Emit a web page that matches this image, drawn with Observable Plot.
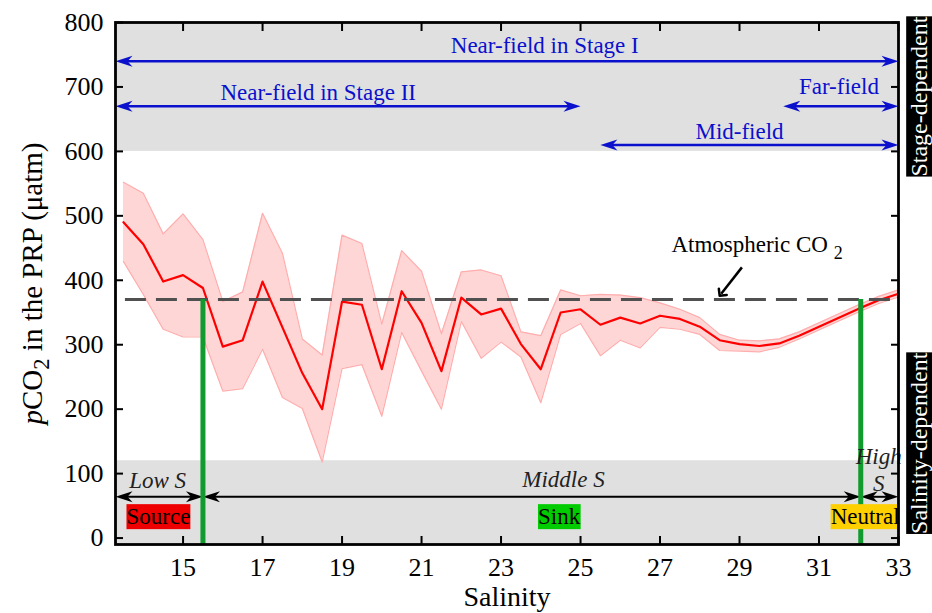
<!DOCTYPE html>
<html>
<head>
<meta charset="utf-8">
<script src="https://cdn.jsdelivr.net/npm/d3@7"></script>
<script src="https://cdn.jsdelivr.net/npm/@observablehq/plot@0.6"></script>
<style>
  body { margin: 0; background: #fff; }
</style>
</head>
<body>
<script>
// pCO2 in the plume region vs. salinity: mean and spread
const salinity  = [13.5, 14, 14.5, 15, 15.5, 16, 16.5, 17, 17.5, 18, 18.5, 19, 19.5, 20, 20.5, 21, 21.5, 22, 22.5, 23,
                   23.5, 24, 24.5, 25, 25.5, 26, 26.5, 27, 27.5, 28, 28.5, 29, 29.5, 30, 30.5, 31, 31.5, 32, 32.5, 33];
const pco2Mean  = [490, 456, 398, 408, 388, 297, 307, 398, 327, 256, 200, 367, 362, 262, 383, 334, 259, 373, 347, 356,
                   301, 262, 350, 355, 331, 342, 333, 345, 340, 328, 307, 301, 298, 302, 314, 328, 342, 356, 369, 379];
const pco2Upper = [552, 535, 472, 503, 463, 367, 382, 504, 442, 309, 284, 470, 457, 332, 446, 414, 317, 413, 416, 407,
                   320, 314, 385, 376, 378, 377, 373, 365, 355, 342, 316, 307, 306, 309, 320, 334, 348, 362, 375, 385];
const pco2Lower = [429, 378, 324, 312, 312, 228, 232, 293, 218, 201, 118, 263, 269, 189, 319, 259, 200, 336, 279, 304,
                   281, 210, 316, 333, 283, 307, 295, 327, 324, 316, 291, 290, 289, 296, 309, 323, 337, 351, 364, 374];

const xTicks = [15, 17, 19, 21, 23, 25, 27, 29, 31, 33];
const yTicks = [0, 100, 200, 300, 400, 500, 600, 700, 800];
const xDomain = [13.3, 33];
const yDomain = [-10, 800];

// Atmospheric reference level and the salinities where the plume crosses it
const atmosphericCO2 = 370;
const atmosphericStart = 13.55;
const salinityBreaks = [15.5, 32.05];

// Shaded zones: stage-dependent (top) and salinity-dependent (bottom)
const stageBand = [600, 800];
const salinityBand = [-10, 120];

// Stage-dependent spatial zones (blue double arrows)
const zoneNames  = ["Near-field in Stage I", "Near-field in Stage II", "Far-field", "Mid-field"];
const zoneFrom   = [13.3, 13.3, 30.1, 25.5];
const zoneTo     = [33, 25, 33, 33];
const zoneLevel  = [740, 670, 670, 610];
const zoneLabelX = [24.1, 18.4, 31.5, 29.0];
const zoneLabelY = [764, 691, 700, 630];

// Salinity classes (black double arrows)
const classNames  = ["Low S", "Middle S", "High\nS"];
const classFrom   = [13.3, 15.5, 32.05];
const classTo     = [15.5, 32.05, 33];
const classLevel  = [64, 64, 64];
const classLabelX = [14.36, 24.57, 32.5];
const classLabelY = [92, 93, 108];

// CO2 source / sink / neutral roles
const roleNames  = ["Source", "Sink", "Neutral"];
const roleX      = [14.38, 24.46, 32.16];
const roleY      = [33, 33, 33];
const roleColors = ["#ee0000", "#00cc00", "#ffd000"];

// Side tags
const sideNames = ["Stage-dependent", "Salinity-dependent"];
const sideY     = [685, 147];

// Atmospheric CO2 note and its pointer
const atmLabel   = {x: 29.44, y: 455};
const atmPointer = {x1: 29.06, y1: 420, x2: 28.54, y2: 379};

// ---- tables built from the arrays ----
const series = salinity.map((s, i) => ({s, mean: pco2Mean[i], hi: pco2Upper[i], lo: pco2Lower[i]}));
const spans = (names, from, to, level) => names.map((n, i) => ({name: n, x1: from[i], x2: to[i], y: level[i]}));
const heads = (rows) => rows.flatMap(d => [{x: d.x1, y: d.y, rotate: 180}, {x: d.x2, y: d.y, rotate: 0}]);
const zones = spans(zoneNames, zoneFrom, zoneTo, zoneLevel);
const classes = spans(classNames, classFrom, classTo, classLevel);
const zoneLabels = zoneNames.map((n, i) => ({text: n, x: zoneLabelX[i], y: zoneLabelY[i]}));
const classLabels = classNames.map((n, i) => ({text: n, x: classLabelX[i], y: classLabelY[i]}));
const roles = roleNames.map((n, i) => ({text: n, x: roleX[i], y: roleY[i], bg: roleColors[i]}));
const sides = sideNames.map((n, i) => ({text: n, y: sideY[i]}));

// filled, notched arrowhead pointing east with its tip at the origin
const stealth = {
  draw(context) {
    context.moveTo(0, 0);
    context.lineTo(-17, -5.5);
    context.lineTo(-12, 0);
    context.lineTo(-17, 5.5);
    context.closePath();
  }
};

const blue = "#0a10cc";
const serif = "'Liberation Serif', 'Times New Roman', serif";

// rewrites a text element with styled runs: [{text, italic, sub}]
function richText(runs, subShift) {
  return (index, scales, values, dimensions, context, next) => {
    const g = next(index, scales, values, dimensions, context);
    d3.select(g).selectAll("text").each(function () {
      const t = d3.select(this);
      t.text(null);
      let shifted = false;
      for (const r of runs) {
        const span = t.append("tspan").text(r.text);
        if (r.italic) span.attr("font-style", "italic");
        if (r.sub) {
          span.attr("font-size", "0.78em").attr("dy", subShift);
          shifted = true;
        } else if (shifted) {
          span.attr("dy", -subShift);
          shifted = false;
        }
      }
    });
    return g;
  };
}

const chart = Plot.plot({
  width: 932,
  height: 613,
  marginLeft: 115,
  marginRight: 34,
  marginTop: 22,
  marginBottom: 69,
  style: {fontFamily: serif, fontSize: "23px", background: "white", color: "black", overflow: "visible"},
  x: {domain: xDomain},
  y: {domain: yDomain},
  marks: [
    // shaded zones
    Plot.rect([stageBand, salinityBand], {x1: xDomain[0], x2: xDomain[1], y1: d => d[0], y2: d => d[1], fill: "#e0e0e0"}),

    // spread band and mean
    Plot.areaY(series, {x: "s", y1: "lo", y2: "hi", fill: "#ffd6d6"}),
    Plot.line(series, {x: "s", y: "hi", stroke: "#ffadad", strokeWidth: 1.2}),
    Plot.line(series, {x: "s", y: "lo", stroke: "#ffadad", strokeWidth: 1.2}),
    Plot.line(series, {x: "s", y: "mean", stroke: "#ff0000", strokeWidth: 2.2}),

    // atmospheric CO2
    Plot.ruleY([atmosphericCO2], {x1: atmosphericStart, x2: xDomain[1], stroke: "#505050", strokeWidth: 3, strokeDasharray: "21,10"}),

    // salinity class arrows
    Plot.ruleY(classes, {y: "y", x1: "x1", x2: "x2", stroke: "black", strokeWidth: 2, insetLeft: 8, insetRight: 8}),
    Plot.dot(heads(classes), {x: "x", y: "y", rotate: "rotate", symbol: stealth, fill: "black", stroke: "none"}),

    // crossing salinities
    Plot.ruleX(salinityBreaks, {y1: yDomain[0], y2: atmosphericCO2, stroke: "#119a2e", strokeWidth: 5}),

    // stage zone arrows
    Plot.ruleY(zones, {y: "y", x1: "x1", x2: "x2", stroke: blue, strokeWidth: 2.5, insetLeft: 8, insetRight: 8}),
    Plot.dot(heads(zones), {x: "x", y: "y", rotate: "rotate", symbol: stealth, fill: blue, stroke: "none"}),
    Plot.text(zoneLabels, {x: "x", y: "y", text: "text", fill: blue, fontSize: 23}),

    // salinity class labels
    Plot.text(classLabels, {x: "x", y: "y", text: "text", fill: "#222", fontSize: 23, fontStyle: "italic", lineHeight: 1.2}),

    // role tags
    Plot.text(roles, {x: "x", y: "y", text: "text", fill: "black", fontSize: 23, className: "role-tag"}),

    // atmospheric note
    Plot.link([atmPointer], {x1: "x1", y1: "y1", x2: "x2", y2: "y2", stroke: "black", strokeWidth: 2.5, markerEnd: "arrow"}),
    Plot.text([atmLabel], {
      x: "x", y: "y", text: () => "Atmospheric CO2", fill: "black", fontSize: 23,
      render: richText([{text: "Atmospheric CO"}, {text: " "}, {text: "2", sub: true}], 7)
    }),

    // side tags
    Plot.text(sides, {x: xDomain[1], y: "y", text: "text", dx: 21, rotate: -90, fill: "white", fontSize: 24, className: "side-tag"}),

    // frame and inward ticks
    Plot.frame({stroke: "black", strokeWidth: 2.8}),
    Plot.axisX(xTicks, {anchor: "bottom", tickSize: 8, dy: -8, fill: "none", strokeWidth: 2, label: null}),
    Plot.axisX(xTicks, {anchor: "top", tickSize: 8, dy: 8, fill: "none", strokeWidth: 2, label: null}),
    Plot.axisY(yTicks, {anchor: "left", tickSize: 8, dx: 8, fill: "none", strokeWidth: 2, label: null}),
    Plot.axisY(yTicks, {anchor: "right", tickSize: 8, dx: -8, fill: "none", strokeWidth: 2, label: null}),

    // tick labels
    Plot.axisX(xTicks, {anchor: "bottom", tickSize: 0, tickPadding: 13, fontSize: 26, fill: "black", label: null}),
    Plot.axisY(yTicks, {anchor: "left", tickSize: 0, tickPadding: 12, fontSize: 26, fill: "black", label: null}),

    // axis titles
    Plot.text(["Salinity"], {frameAnchor: "bottom", textAnchor: "middle", lineAnchor: "middle", dy: 53, fontSize: 28, fill: "black"}),
    Plot.text(["pCO2 in the PRP (μatm)"], {
      frameAnchor: "left", textAnchor: "middle", lineAnchor: "middle", dx: -83, rotate: -90, fontSize: 29, fill: "black",
      render: richText([{text: "p", italic: true}, {text: "CO"}, {text: "2", sub: true}, {text: " in the PRP (μatm)"}], 7)
    })
  ]
});

document.body.append(chart);

// solid backgrounds behind the tag texts, sized to each text's box
function backBoxes(cls, fills) {
  d3.select(chart).selectAll(`g.${cls} text`).each(function (_, i) {
    const b = this.getBBox();
    d3.select(this.parentNode).insert("rect", () => this)
      .attr("x", b.x).attr("y", b.y)
      .attr("width", b.width).attr("height", b.height)
      .attr("transform", this.getAttribute("transform"))
      .attr("fill", fills[i]);
  });
}
backBoxes("role-tag", roleColors);
backBoxes("side-tag", sideNames.map(() => "black"));
</script>
</body>
</html>
